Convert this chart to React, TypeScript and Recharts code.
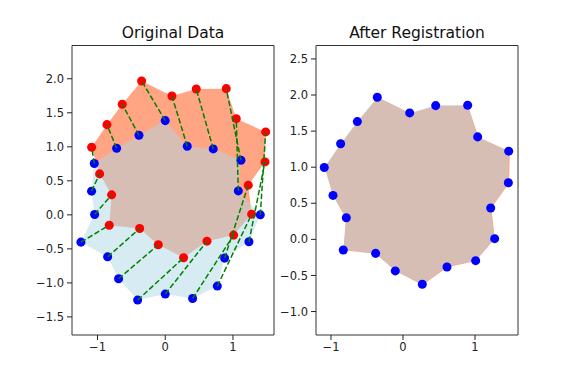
import React from 'react';
import { ScatterChart, Scatter, XAxis, YAxis, ReferenceArea } from 'recharts';

// source shape before registration (blue)
const originalX = [0.0, 0.325, 0.709, 1.118, 1.079, 1.404, 1.236, 0.877, 0.769, 0.404, 0.0, -0.408, -0.689, -0.851, -1.245, -1.043, -1.088, -1.048, -0.718, -0.388];
const originalY = [1.385, 1.008, 0.969, 0.803, 0.352, 0.0, -0.396, -0.636, -1.047, -1.229, -1.165, -1.253, -0.94, -0.617, -0.401, 0.005, 0.348, 0.754, 0.979, 1.17];

// target shape (red)
const targetX = [-0.349, 0.099, 0.458, 0.901, 1.049, 1.483, 1.473, 1.226, 1.276, 1.01, 0.616, 0.271, -0.103, -0.378, -0.827, -0.792, -0.969, -1.087, -0.861, -0.635];
const targetY = [1.968, 1.747, 1.85, 1.855, 1.414, 1.219, 0.778, 0.436, 0.01, -0.298, -0.387, -0.631, -0.44, -0.201, -0.152, 0.294, 0.602, 0.994, 1.326, 1.625];

// source shape after registration
const registeredX = [-0.357, 0.093, 0.454, 0.898, 1.037, 1.468, 1.463, 1.218, 1.273, 1.009, 0.611, 0.268, -0.107, -0.38, -0.829, -0.787, -0.972, -1.093, -0.866, -0.634];
const registeredY = [1.969, 1.752, 1.853, 1.858, 1.42, 1.222, 0.784, 0.434, 0.01, -0.295, -0.382, -0.622, -0.437, -0.194, -0.147, 0.3, 0.609, 0.996, 1.324, 1.632];

const xTicks = [-1, 0, 1];
const leftYTicks = [-1.5, -1, -0.5, 0, 0.5, 1, 1.5, 2];
const rightYTicks = [-1, -0.5, 0, 0.5, 1, 1.5, 2, 2.5];

const toPoints = (xs: number[], ys: number[]) => xs.map((x, i) => ({ x, y: ys[i] }));

const fmtX = (v: number) => String(v).replace('-', '\u2212');
const fmtY = (v: number) => v.toFixed(1).replace('-', '\u2212');

const tickStyle = { fontSize: 11.5, fill: '#222', fontFamily: 'DejaVu Sans' };
const noDot = () => <g />;

interface IPanelProps {
    left: number,
    xDomain: [number, number],
    yDomain: [number, number],
    yTicks: number[],
    children: React.ReactNode
}

const Panel = (props: IPanelProps) => {
    const { left, xDomain, yDomain, yTicks, children } = props;
    return (
        <div style={{ position: 'absolute', left: left, top: 0 }}>
            <ScatterChart width={244} height={384} margin={{ top: 45.5, right: 2, bottom: 19, left: 0 }}>
                <XAxis type="number" dataKey="x" domain={xDomain} ticks={xTicks} allowDataOverflow
                    height={30} axisLine={false} tickSize={5} tickMargin={3} tick={tickStyle}
                    tickFormatter={fmtX} tickLine={{ stroke: '#222' }} />
                <YAxis type="number" dataKey="y" domain={yDomain} ticks={yTicks} allowDataOverflow
                    width={40} axisLine={false} tickSize={5} tickMargin={3} tick={tickStyle}
                    tickFormatter={fmtY} tickLine={{ stroke: '#222' }} />
                {children}
                <ReferenceArea x1={xDomain[0]} x2={xDomain[1]} y1={yDomain[0]} y2={yDomain[1]}
                    fill="none" fillOpacity={0} stroke="#333" strokeWidth={1} ifOverflow="visible" />
            </ScatterChart>
        </div>
    );
}

const App = () => {
    const original = toPoints(originalX, originalY);
    const target = toPoints(targetX, targetY);
    const registered = toPoints(registeredX, registeredY);

    return (
        <div style={{ position: 'fixed', left: 0, top: 0, width: 576, height: 384, background: '#fff' }}>
            <Panel left={32} xDomain={[-1.377, 1.606]} yDomain={[-1.766, 2.489]} yTicks={leftYTicks}>
                <Scatter data={target} fill="none" shape={noDot} isAnimationActive={false}
                    line={{ fill: 'coral', fillOpacity: 0.7, stroke: 'none' }} />
                <Scatter data={original} fill="none" shape={noDot} isAnimationActive={false}
                    line={{ fill: 'lightblue', fillOpacity: 0.5, stroke: 'none' }} />
                <Scatter data={original} fill="blue" isAnimationActive={false} />
                <Scatter data={target} fill="red" isAnimationActive={false} />
                {original.map((p, i) => (
                    <Scatter key={i} data={[p, target[i]]} fill="none" shape={noDot} isAnimationActive={false}
                        line={{ stroke: 'green', strokeWidth: 1.5, strokeDasharray: '5.5 2.4', fill: 'none' }} />
                ))}
            </Panel>
            <Panel left={276} xDomain={[-1.208, 1.597]} yDomain={[-1.325, 2.686]} yTicks={rightYTicks}>
                <Scatter data={target} fill="none" shape={noDot} isAnimationActive={false}
                    line={{ fill: 'coral', fillOpacity: 0.7, stroke: 'none' }} />
                <Scatter data={registered} fill="none" shape={noDot} isAnimationActive={false}
                    line={{ fill: 'lightblue', fillOpacity: 0.5, stroke: 'none' }} />
                <Scatter data={registered} fill="blue" isAnimationActive={false} />
            </Panel>
            <svg width={576} height={60} style={{ position: 'absolute', left: 0, top: 0 }}>
                <text x={173} y={38} textAnchor="middle" fontFamily="DejaVu Sans" fontSize={15.5} fill="#111">Original Data</text>
                <text x={417} y={38} textAnchor="middle" fontFamily="DejaVu Sans" fontSize={15.5} fill="#111">After Registration</text>
            </svg>
        </div>
    );
}

export default App;
